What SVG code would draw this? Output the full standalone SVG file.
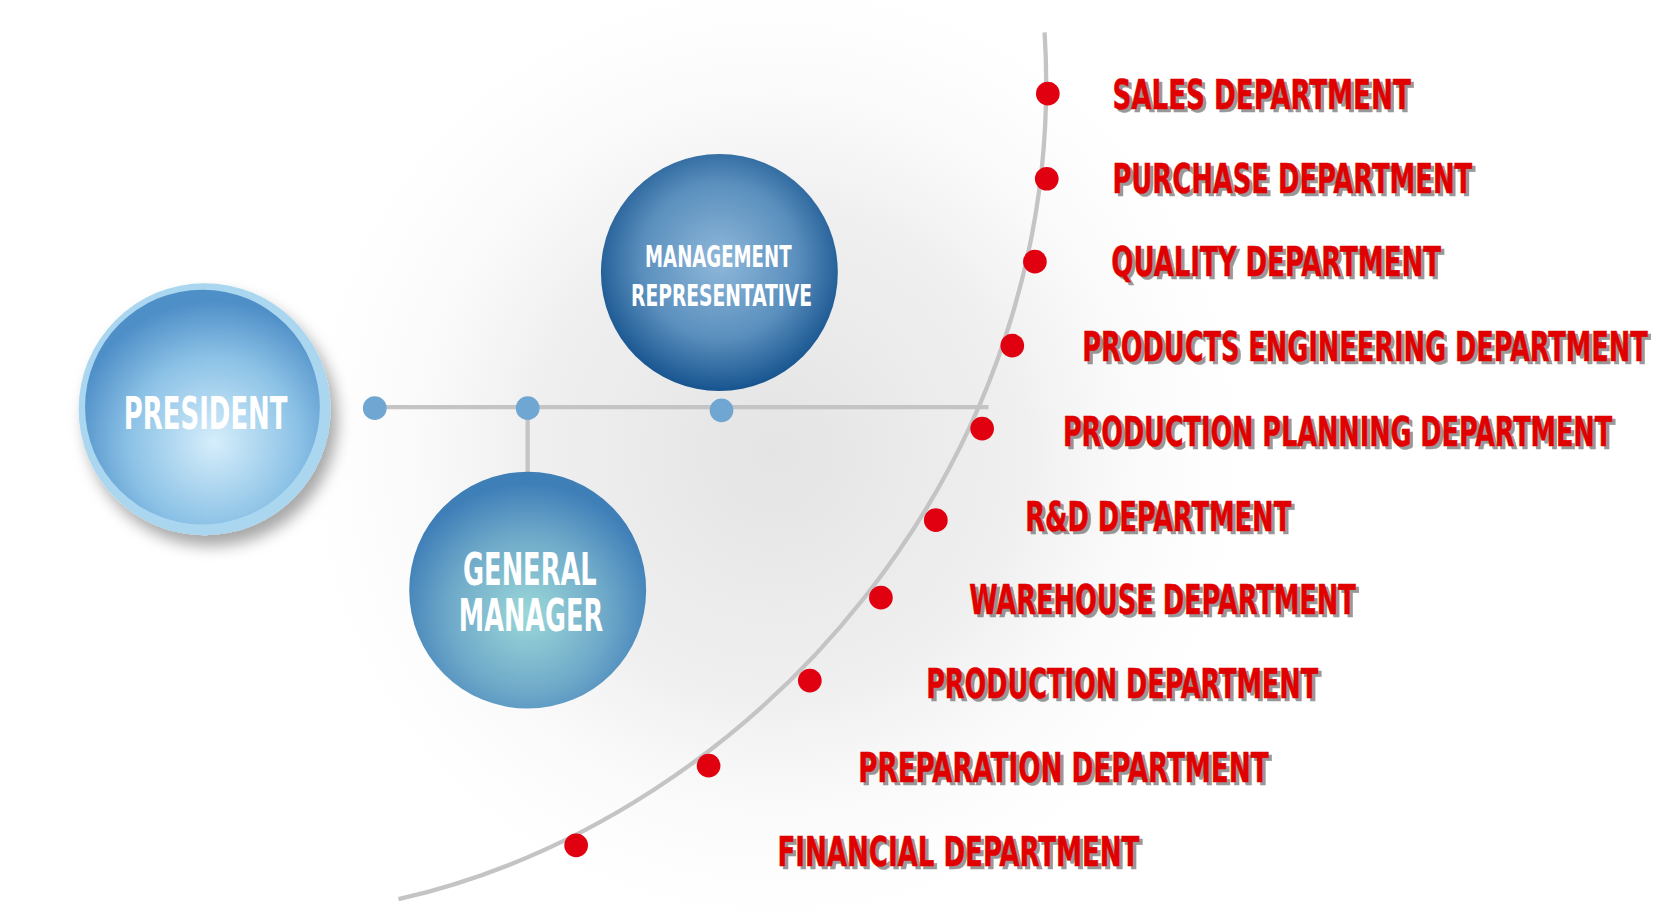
<svg xmlns="http://www.w3.org/2000/svg" width="1680" height="920" viewBox="0 0 1680 920">
<defs>
<radialGradient id="bg" cx="720" cy="420" r="470" gradientUnits="userSpaceOnUse"><stop offset="0" stop-color="#e4e4e4"/><stop offset="0.5" stop-color="#f0f0f0"/><stop offset="1" stop-color="#ffffff" stop-opacity="0"/></radialGradient>
<radialGradient id="pres" cx="0.55" cy="0.65" r="0.6"><stop offset="0" stop-color="#d6eefb"/><stop offset="0.6" stop-color="#8cc2e6"/><stop offset="1" stop-color="#4f8fc8"/></radialGradient>
<radialGradient id="mr" cx="0.5" cy="0.45" r="0.55"><stop offset="0" stop-color="#8fb8da"/><stop offset="0.6" stop-color="#5a8fbd"/><stop offset="1" stop-color="#17548f"/></radialGradient>
<radialGradient id="gm" cx="0.5" cy="0.6" r="0.55"><stop offset="0" stop-color="#9ad8d8"/><stop offset="0.6" stop-color="#6fa9c9"/><stop offset="1" stop-color="#3f7fb8"/></radialGradient>
<filter id="sh" x="-30%" y="-30%" width="160%" height="160%"><feDropShadow dx="6" dy="10" stdDeviation="7" flood-color="#000" flood-opacity="0.35"/></filter>
</defs>
<style>
.lbl{font-family:"DejaVu Sans Condensed","DejaVu Sans",sans-serif;font-weight:bold;font-size:38px;fill:#e00000;stroke:#e00000;stroke-width:0.5}
.shd{fill:#555;stroke:#555;opacity:0.6}
.w{font-family:"DejaVu Sans Condensed","DejaVu Sans",sans-serif;font-weight:bold;fill:#fff;text-anchor:middle}
.dot{fill:#e00010}
.sd{fill:#6fa6d2}
</style>
<rect width="1680" height="920" fill="#fff"/>
<g transform="scale(1.0769)">
<ellipse cx="720" cy="420" rx="470" ry="470" fill="url(#bg)"/>
<g id="connectors" fill="none" stroke="#c4c4c4" stroke-width="4">
<path d="M970 30 C995 430 700 760 370 835"/>
<line x1="348" y1="378" x2="918" y2="378"/>
<line x1="490" y1="378" x2="490" y2="440"/>
</g>
<g id="junctions"><circle class="sd" cx="348" cy="379" r="11"/><circle class="sd" cx="490" cy="379" r="11"/><circle class="sd" cx="670" cy="381" r="11"/></g>
<g id="president"><circle cx="190" cy="380" r="117" fill="#aad6f0" filter="url(#sh)"/><circle cx="188" cy="378" r="109" fill="url(#pres)"/><text class="w" x="191" y="398" font-size="42" textLength="152" lengthAdjust="spacingAndGlyphs">PRESIDENT</text></g>
<g id="management-representative"><circle cx="668" cy="253" r="110" fill="url(#mr)"/><text class="w" x="667" y="248" font-size="28" textLength="136" lengthAdjust="spacingAndGlyphs">MANAGEMENT</text><text class="w" x="670" y="284" font-size="28" textLength="168" lengthAdjust="spacingAndGlyphs">REPRESENTATIVE</text></g>
<g id="general-manager"><circle cx="490" cy="548" r="110" fill="url(#gm)"/><text class="w" x="492" y="543" font-size="42" textLength="124" lengthAdjust="spacingAndGlyphs">GENERAL</text><text class="w" x="493" y="586" font-size="42" textLength="134" lengthAdjust="spacingAndGlyphs">MANAGER</text></g>
<g id="dots">
<circle class="dot" cx="973" cy="87" r="11"/><circle class="dot" cx="972" cy="166" r="11"/><circle class="dot" cx="961" cy="243" r="11"/><circle class="dot" cx="940" cy="321" r="11"/><circle class="dot" cx="912" cy="398" r="11"/><circle class="dot" cx="869" cy="483" r="11"/><circle class="dot" cx="818" cy="555" r="11"/><circle class="dot" cx="752" cy="632" r="11"/><circle class="dot" cx="658" cy="711" r="11"/><circle class="dot" cx="535" cy="785" r="11"/>
</g>
<g id="labels">
<text class="lbl shd" x="1036" y="104" textLength="277" lengthAdjust="spacingAndGlyphs">SALES DEPARTMENT</text><text class="lbl" x="1033" y="101" textLength="277" lengthAdjust="spacingAndGlyphs">SALES DEPARTMENT</text>
<text class="lbl shd" x="1036" y="182" textLength="334" lengthAdjust="spacingAndGlyphs">PURCHASE DEPARTMENT</text><text class="lbl" x="1033" y="179" textLength="334" lengthAdjust="spacingAndGlyphs">PURCHASE DEPARTMENT</text>
<text class="lbl shd" x="1035" y="259" textLength="306" lengthAdjust="spacingAndGlyphs">QUALITY DEPARTMENT</text><text class="lbl" x="1032" y="256" textLength="306" lengthAdjust="spacingAndGlyphs">QUALITY DEPARTMENT</text>
<text class="lbl shd" x="1008" y="338" textLength="525" lengthAdjust="spacingAndGlyphs">PRODUCTS ENGINEERING DEPARTMENT</text><text class="lbl" x="1005" y="335" textLength="525" lengthAdjust="spacingAndGlyphs">PRODUCTS ENGINEERING DEPARTMENT</text>
<text class="lbl shd" x="990" y="417" textLength="510" lengthAdjust="spacingAndGlyphs">PRODUCTION PLANNING DEPARTMENT</text><text class="lbl" x="987" y="414" textLength="510" lengthAdjust="spacingAndGlyphs">PRODUCTION PLANNING DEPARTMENT</text>
<text class="lbl shd" x="955" y="496" textLength="247" lengthAdjust="spacingAndGlyphs">R&amp;D DEPARTMENT</text><text class="lbl" x="952" y="493" textLength="247" lengthAdjust="spacingAndGlyphs">R&amp;D DEPARTMENT</text>
<text class="lbl shd" x="903" y="573" textLength="359" lengthAdjust="spacingAndGlyphs">WAREHOUSE DEPARTMENT</text><text class="lbl" x="900" y="570" textLength="359" lengthAdjust="spacingAndGlyphs">WAREHOUSE DEPARTMENT</text>
<text class="lbl shd" x="863" y="651" textLength="364" lengthAdjust="spacingAndGlyphs">PRODUCTION DEPARTMENT</text><text class="lbl" x="860" y="648" textLength="364" lengthAdjust="spacingAndGlyphs">PRODUCTION DEPARTMENT</text>
<text class="lbl shd" x="800" y="729" textLength="381" lengthAdjust="spacingAndGlyphs">PREPARATION DEPARTMENT</text><text class="lbl" x="797" y="726" textLength="381" lengthAdjust="spacingAndGlyphs">PREPARATION DEPARTMENT</text>
<text class="lbl shd" x="725" y="807" textLength="336" lengthAdjust="spacingAndGlyphs">FINANCIAL DEPARTMENT</text><text class="lbl" x="722" y="804" textLength="336" lengthAdjust="spacingAndGlyphs">FINANCIAL DEPARTMENT</text>
</g>
</g>
</svg>
